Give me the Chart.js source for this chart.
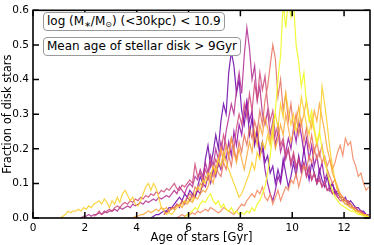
<!DOCTYPE html>
<html>
<head>
<meta charset="utf-8">
<script src="https://cdn.jsdelivr.net/npm/chart.js@4"></script>
<style>
  html, body { margin: 0; padding: 0; background: #fff; }
  #wrap { position: relative; width: 374px; height: 245px; }
  .note {
    position: absolute; left: 43px;
    font: 12px "DejaVu Sans", sans-serif; color: #000;
    line-height: 15px; padding: 1px 3px 1px 3px;
    border: 1px solid #999; border-radius: 4px; background: #fff;
    white-space: nowrap;
  }
  .note sub { font-size: 8px; line-height: 0; vertical-align: -2px; }
</style>
</head>
<body>
<div id="wrap">
  <canvas id="chart" width="374" height="245"></canvas>
  <div class="note" style="top:12px">log (M<sub>∗</sub>/M<sub>⊙</sub>) (&lt;30kpc) &lt; 10.9</div>
  <div class="note" style="top:37px">Mean age of stellar disk &gt; 9Gyr</div>
</div>
<script>
  // bin width of the age histograms (Gyr)
  const BIN = 0.1;
  const xTicks = [0, 2, 4, 6, 8, 10, 12];
  const yTicks = [0, 0.1, 0.2, 0.3, 0.4, 0.5, 0.6];

  // each galaxy: first bin centre + fractions per 0.1 Gyr bin
  const purpleStart = 4.55;
  const purple = [
    0.00, 0.005, 0.01, 0.01, 0.015,
    0.02, 0.02, 0.03, 0.03, 0.04, 0.05, 0.06, 0.05, 0.07, 0.06,
    0.08, 0.07, 0.06, 0.09, 0.12, 0.10, 0.17, 0.21, 0.15, 0.19,
    0.24, 0.20, 0.28, 0.33, 0.30, 0.42, 0.48, 0.44, 0.36, 0.40,
    0.31, 0.27, 0.33, 0.24, 0.29, 0.21, 0.25, 0.19, 0.22, 0.16,
    0.18, 0.13, 0.15, 0.10, 0.14, 0.11, 0.17, 0.13, 0.09, 0.12,
    0.16, 0.12, 0.18, 0.14, 0.20, 0.15, 0.11, 0.16, 0.13, 0.10,
    0.14, 0.11, 0.09, 0.12, 0.08, 0.10, 0.07, 0.08, 0.06, 0.05,
    0.06, 0.04, 0.05, 0.04, 0.03, 0.03, 0.02, 0.02, 0.01, 0.01
  ];

  const violetStart = 5.05;
  const violet = [
    0.01, 0.02, 0.02, 0.03, 0.03, 0.04, 0.03, 0.05, 0.04, 0.06,
    0.05, 0.07, 0.06, 0.08, 0.07, 0.10, 0.09, 0.12, 0.10, 0.14,
    0.12, 0.16, 0.14, 0.19, 0.17, 0.22, 0.18, 0.25, 0.21, 0.27,
    0.24, 0.30, 0.34, 0.28, 0.31, 0.22, 0.26, 0.18, 0.20, 0.14,
    0.10, 0.07, 0.05, 0.08, 0.12, 0.10, 0.15, 0.19, 0.23, 0.20,
    0.26, 0.22, 0.28, 0.24, 0.19, 0.23, 0.17, 0.21, 0.15, 0.18,
    0.13, 0.16, 0.11, 0.13, 0.09, 0.10, 0.08, 0.07, 0.06, 0.06,
    0.05, 0.05, 0.04, 0.03, 0.03, 0.02, 0.02, 0.01, 0.01, 0.005
  ];

  const magentaStart = 1.85;
  const magenta = [
    0.00, 0.005,
    0.005, 0.01, 0.005, 0.01, 0.01, 0.015, 0.01, 0.02, 0.015, 0.02,
    0.02, 0.025, 0.02, 0.03, 0.025, 0.03, 0.035, 0.03, 0.04, 0.035,
    0.04, 0.045, 0.04, 0.05, 0.045, 0.05, 0.055, 0.05, 0.06, 0.055,
    0.06, 0.065, 0.06, 0.07, 0.08, 0.07, 0.09, 0.08, 0.07, 0.09,
    0.10, 0.09, 0.12, 0.11, 0.14, 0.12, 0.16, 0.13, 0.18, 0.15,
    0.20, 0.17, 0.22, 0.19, 0.25, 0.29, 0.33, 0.30, 0.37, 0.42,
    0.36, 0.47, 0.55, 0.49, 0.40, 0.44, 0.34, 0.38, 0.30, 0.27,
    0.31, 0.24, 0.28, 0.21, 0.25, 0.19, 0.22, 0.17, 0.20, 0.15,
    0.18, 0.14, 0.17, 0.13, 0.16, 0.12, 0.15, 0.11, 0.13, 0.10,
    0.12, 0.09, 0.11, 0.08, 0.09, 0.07, 0.08, 0.06, 0.06, 0.05,
    0.05, 0.04, 0.04, 0.03, 0.03, 0.02, 0.02, 0.015, 0.01, 0.005
  ];

  const pinkStart = 2.35;
  const pink = [
    0.005, 0.01, 0.02, 0.01, 0.015, 0.02, 0.025,
    0.02, 0.03, 0.035, 0.03, 0.04, 0.045, 0.04, 0.05, 0.045, 0.055,
    0.05, 0.06, 0.055, 0.065, 0.06, 0.07, 0.065, 0.075, 0.07, 0.08,
    0.075, 0.085, 0.08, 0.09, 0.10, 0.085, 0.08, 0.095, 0.09, 0.10,
    0.11, 0.10, 0.155, 0.12, 0.13, 0.11, 0.14, 0.12, 0.16, 0.14,
    0.17, 0.15, 0.19, 0.24, 0.21, 0.18, 0.23, 0.20, 0.26, 0.30,
    0.27, 0.33, 0.29, 0.36, 0.31, 0.39, 0.34, 0.42, 0.37, 0.41,
    0.33, 0.28, 0.31, 0.24, 0.27, 0.21, 0.23, 0.18, 0.20, 0.16,
    0.19, 0.15, 0.17, 0.14, 0.16, 0.12, 0.14, 0.11, 0.13, 0.10,
    0.11, 0.09, 0.10, 0.08, 0.08, 0.07, 0.07, 0.06, 0.05, 0.05,
    0.04, 0.04, 0.03, 0.03, 0.02, 0.02, 0.015, 0.01, 0.01, 0.005
  ];

  const salmonStart = 5.05;
  const salmon = [
    0.01, 0.015, 0.02, 0.03, 0.025, 0.04, 0.035, 0.05, 0.045, 0.06,
    0.07, 0.06, 0.09, 0.08, 0.10, 0.09, 0.12, 0.11, 0.13, 0.12,
    0.15, 0.13, 0.12, 0.16, 0.14, 0.18, 0.15, 0.20, 0.17, 0.22,
    0.19, 0.24, 0.21, 0.26, 0.23, 0.28, 0.25, 0.31, 0.27, 0.34,
    0.38, 0.44, 0.50, 0.46, 0.35, 0.40, 0.31, 0.36, 0.28, 0.33,
    0.26, 0.30, 0.24, 0.28, 0.22, 0.26, 0.20, 0.24, 0.19, 0.22,
    0.18, 0.21, 0.16, 0.14, 0.12, 0.10, 0.11, 0.08, 0.07, 0.06,
    0.05, 0.05, 0.04, 0.03, 0.03, 0.02, 0.02, 0.01, 0.01, 0.005
  ];

  const coralStart = 5.55;
  const coral = [
    0.00, 0.005, 0.01, 0.005, 0.01,
    0.01, 0.015, 0.01, 0.02, 0.015, 0.02, 0.025, 0.02, 0.03, 0.025,
    0.02, 0.015, 0.02, 0.03, 0.025, 0.02, 0.015, 0.01, 0.02, 0.03,
    0.04, 0.035, 0.05, 0.06, 0.07, 0.06, 0.08, 0.07, 0.09, 0.06,
    0.05, 0.07, 0.04, 0.06, 0.08, 0.05, 0.07, 0.09, 0.08, 0.11,
    0.10, 0.13, 0.09, 0.12, 0.15, 0.14, 0.18, 0.16, 0.20, 0.17,
    0.19, 0.16, 0.18, 0.15, 0.17, 0.14, 0.16, 0.19, 0.21, 0.18,
    0.23, 0.21, 0.22, 0.17, 0.15, 0.12, 0.13, 0.10, 0.08, 0.09
  ];

  const orangeStart = 3.85;
  const orange = [
    0.00, 0.005,
    0.005, 0.01, 0.01, 0.015, 0.02, 0.015, 0.02, 0.025, 0.02, 0.03,
    0.025, 0.03, 0.02, 0.025, 0.03, 0.035, 0.04, 0.03, 0.045, 0.04,
    0.05, 0.045, 0.06, 0.055, 0.07, 0.08, 0.075, 0.09, 0.12, 0.10,
    0.14, 0.17, 0.20, 0.16, 0.21, 0.18, 0.23, 0.19, 0.16, 0.20,
    0.17, 0.14, 0.18, 0.22, 0.19, 0.25, 0.21, 0.27, 0.24, 0.29,
    0.26, 0.22, 0.25, 0.20, 0.23, 0.27, 0.24, 0.30, 0.26, 0.22,
    0.25, 0.28, 0.32, 0.27, 0.30, 0.34, 0.29, 0.26, 0.31, 0.28,
    0.33, 0.29, 0.25, 0.20, 0.17, 0.13, 0.11, 0.09, 0.07, 0.06,
    0.05, 0.04, 0.04, 0.03, 0.02, 0.02, 0.015, 0.01, 0.01, 0.005
  ];

  const goldStart = 1.05;
  const gold = [
    0.00, 0.005, 0.01, 0.02, 0.015, 0.02, 0.02, 0.025, 0.02, 0.03,
    0.025, 0.035, 0.03, 0.04, 0.045, 0.05, 0.04, 0.055, 0.045, 0.03,
    0.05, 0.04, 0.06, 0.045, 0.07, 0.08, 0.065, 0.05, 0.06, 0.04,
    0.035, 0.05, 0.07, 0.09, 0.10, 0.08, 0.10, 0.085, 0.06, 0.03,
    0.02, 0.01, 0.015, 0.01, 0.02, 0.03, 0.035, 0.04, 0.05, 0.045,
    0.06, 0.05, 0.07, 0.09, 0.08, 0.11, 0.10, 0.13, 0.12, 0.15,
    0.13, 0.17, 0.15, 0.19, 0.16, 0.14, 0.12, 0.10, 0.08, 0.06,
    0.07, 0.09, 0.11, 0.13, 0.16, 0.14, 0.19, 0.17, 0.22, 0.20,
    0.24, 0.21, 0.27, 0.30, 0.26, 0.33, 0.29, 0.36, 0.31, 0.27,
    0.30, 0.25, 0.28, 0.35, 0.31, 0.27, 0.24, 0.29, 0.25, 0.21,
    0.24, 0.38, 0.33, 0.27, 0.20, 0.15, 0.11, 0.08, 0.06, 0.05,
    0.04, 0.035, 0.03, 0.025, 0.02, 0.015, 0.01, 0.01, 0.005, 0.005
  ];

  const yellowStart = 5.85;
  const yellow = [
    0.00, 0.01,
    0.015, 0.02, 0.03, 0.025, 0.04, 0.05, 0.045, 0.06, 0.07, 0.05,
    0.04, 0.05, 0.03, 0.04, 0.025, 0.02, 0.03, 0.015, 0.02, 0.01,
    0.015, 0.01, 0.02, 0.015, 0.03, 0.02, 0.04, 0.05, 0.07, 0.09,
    0.13, 0.18, 0.24, 0.31, 0.40, 0.47, 0.62, 0.55, 0.63, 0.58,
    0.62, 0.50, 0.45, 0.38, 0.42, 0.33, 0.28, 0.31, 0.26, 0.22,
    0.25, 0.20, 0.17, 0.13, 0.10, 0.08, 0.06, 0.05, 0.04, 0.035,
    0.03, 0.025, 0.02, 0.02, 0.015, 0.01, 0.01, 0.005, 0.005, 0.005
  ];

  // plasma-like colours, drawn purple first, yellow last (on top)
  const series = [
    { start: purpleStart, values: purple, color: 'rgba(106, 0, 168, 0.85)' },
    { start: violetStart, values: violet, color: 'rgba(143, 13, 164, 0.85)' },
    { start: magentaStart, values: magenta, color: 'rgba(177, 42, 144, 0.85)' },
    { start: pinkStart, values: pink, color: 'rgba(204, 71, 120, 0.85)' },
    { start: coralStart, values: coral, color: 'rgba(242, 132, 90, 0.85)' },
    { start: salmonStart, values: salmon, color: 'rgba(230, 110, 90, 0.85)' },
    { start: orangeStart, values: orange, color: 'rgba(252, 166, 54, 0.85)' },
    { start: goldStart, values: gold, color: 'rgba(252, 206, 37, 0.85)' },
    { start: yellowStart, values: yellow, color: 'rgba(240, 249, 33, 0.9)' },
  ];

  const datasets = series.map((s, i) => ({
    data: s.values.map((v, k) => ({ x: s.start + k * BIN, y: v })),
    borderColor: s.color,
    borderWidth: 1.2,
    pointRadius: 0,
    tension: 0,
    order: series.length - i,
  }));

  // inward ticks on all four sides plus the frame
  const frame = {
    id: 'frame',
    afterDraw(chart) {
      const { ctx, chartArea: a, scales: { x, y } } = chart;
      ctx.save();
      ctx.strokeStyle = '#000';
      ctx.lineWidth = 1.5;
      ctx.beginPath();
      for (const v of xTicks) {
        const px = x.getPixelForValue(v);
        ctx.moveTo(px, a.bottom); ctx.lineTo(px, a.bottom - 6);
        ctx.moveTo(px, a.top); ctx.lineTo(px, a.top + 6);
      }
      for (const v of yTicks) {
        const py = y.getPixelForValue(v);
        ctx.moveTo(a.left, py); ctx.lineTo(a.left + 6, py);
        ctx.moveTo(a.right, py); ctx.lineTo(a.right - 6, py);
      }
      ctx.stroke();
      ctx.lineWidth = 1.6;
      ctx.strokeRect(a.left, a.top, a.right - a.left, a.bottom - a.top);
      ctx.restore();
    }
  };

  const tickFont = { family: '"DejaVu Sans", sans-serif', size: 10.5 };
  const titleFont = { family: '"DejaVu Sans", sans-serif', size: 11.5 };

  new Chart(document.getElementById('chart'), {
    type: 'line',
    data: { datasets },
    options: {
      responsive: false,
      animation: false,
      events: [],
      layout: { padding: { top: 7, right: 4, left: 0, bottom: 0 } },
      plugins: { legend: { display: false }, tooltip: { enabled: false } },
      scales: {
        x: {
          type: 'linear', min: 0, max: 13,
          grid: { display: false, drawTicks: false },
          border: { display: false },
          afterBuildTicks: (s) => { s.ticks = xTicks.map((v) => ({ value: v })); },
          afterFit: (s) => { s.height = 27; },
          ticks: { color: '#000', font: tickFont, padding: 4, maxRotation: 0 },
          title: { display: true, text: 'Age of stars [Gyr]', color: '#000', font: titleFont, padding: { top: 2, bottom: 0 } },
        },
        y: {
          min: 0, max: 0.6,
          grid: { display: false, drawTicks: false },
          border: { display: false },
          afterBuildTicks: (s) => { s.ticks = yTicks.map((v) => ({ value: v })); },
          afterFit: (s) => { s.width = 33; },
          ticks: { color: '#000', font: tickFont, padding: 4, callback: (v) => v.toFixed(1) },
          title: { display: true, text: 'Fraction of disk stars', color: '#000', font: titleFont, padding: { top: 1, bottom: 0 } },
        },
      },
    },
    plugins: [frame],
  });
</script>
</body>
</html>
